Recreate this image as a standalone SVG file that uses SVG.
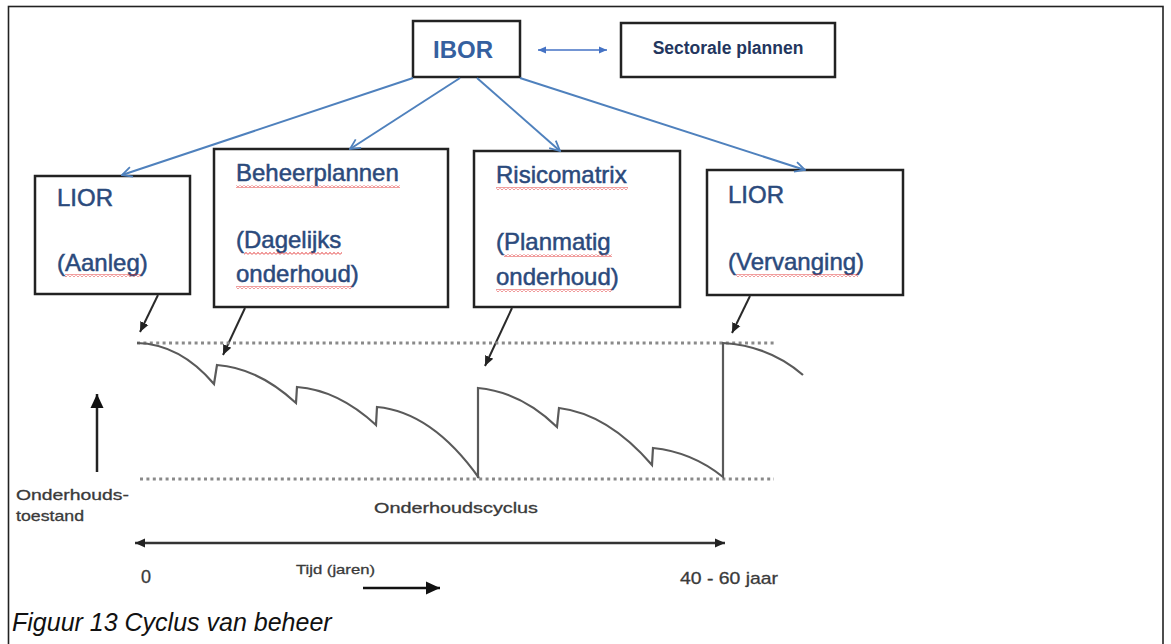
<svg xmlns="http://www.w3.org/2000/svg" width="1171" height="644" viewBox="0 0 1171 644">
<style>
.box{fill:#fff;stroke:#222;stroke-width:2.5}
.bt{font-family:"Liberation Sans",Arial,sans-serif;font-size:24px;fill:#2B4A7C;stroke:#2B4A7C;stroke-width:0.5}
.blue{stroke:#4F81BD;stroke-width:2;fill:none}
.blk{stroke:#2a2a2a;stroke-width:2;fill:none}
.dot{stroke:#8a8a8a;stroke-width:3;stroke-dasharray:3 3.4;fill:none}
.lbl{font-family:"Liberation Sans",Arial,sans-serif;font-size:15px;fill:#3a3a3a;stroke:#3a3a3a;stroke-width:0.3}
.sq{fill:url(#sq)}
</style>
<defs>
<pattern id="sq" patternUnits="userSpaceOnUse" x="0" y="0" width="4" height="3">
<path d="M0,2.6 L2,0.4 L4,2.6" fill="none" stroke="#E02828" stroke-width="0.9"/>
</pattern>
<marker id="bo" viewBox="0 0 12 12" refX="11" refY="6" markerWidth="12" markerHeight="12" markerUnits="userSpaceOnUse" orient="auto">
<path d="M1,1 L11,6 L1,11" fill="none" stroke="#4F81BD" stroke-width="1.8"/>
</marker>
<marker id="bf" viewBox="0 0 8 8" refX="8" refY="4" markerWidth="8" markerHeight="8" markerUnits="userSpaceOnUse" orient="auto-start-reverse">
<path d="M0,0.5 L8,4 L0,7.5 z" fill="#4472C4"/>
</marker>
<marker id="kf" viewBox="0 0 10 10" refX="10" refY="5" markerWidth="10" markerHeight="10" markerUnits="userSpaceOnUse" orient="auto-start-reverse">
<path d="M0,0.5 L10,5 L0,9.5 z" fill="#222"/>
</marker>
<marker id="kb" viewBox="0 0 14 14" refX="14" refY="7" markerWidth="14" markerHeight="14" markerUnits="userSpaceOnUse" orient="auto-start-reverse">
<path d="M0,0.5 L14,7 L0,13.5 z" fill="#111"/>
</marker>
</defs>
<rect x="0" y="0" width="1171" height="644" fill="#fff"/>
<rect x="8.5" y="6.5" width="1154.5" height="660" fill="none" stroke="#222" stroke-width="1.6"/>

<g id="ibor">
<rect class="box" x="413" y="21" width="107" height="56"/>
<text x="463" y="58" text-anchor="middle" font-family="Liberation Sans,Arial,sans-serif" font-size="24" font-weight="bold" fill="#35609F">IBOR</text>
</g>
<g id="sectorale">
<rect class="box" x="621" y="23" width="214" height="54"/>
<text x="728" y="54" text-anchor="middle" font-family="Liberation Sans,Arial,sans-serif" font-size="17.5" font-weight="bold" fill="#23365E">Sectorale plannen</text>
</g>
<g id="lior-aanleg">
<rect class="box" x="35" y="176" width="155" height="118"/>
<text class="bt" x="57" y="206">LIOR</text>
<text class="bt" x="57" y="271">(Aanleg)</text>
<rect class="sq" x="65" y="274" width="76" height="3"/>
</g>
<g id="beheerplannen">
<rect class="box" x="214" y="149" width="234" height="158"/>
<text class="bt" x="236" y="181">Beheerplannen</text>
<text class="bt" x="236" y="248">(Dagelijks</text>
<text class="bt" x="236" y="282">onderhoud)</text>
<rect class="sq" x="236" y="185" width="164" height="3"/>
<rect class="sq" x="244" y="252" width="98" height="3"/>
<rect class="sq" x="236" y="286" width="116" height="3"/>
</g>
<g id="risicomatrix">
<rect class="box" x="474" y="151" width="206" height="156"/>
<text class="bt" x="496" y="183">Risicomatrix</text>
<text class="bt" x="496" y="250">(Planmatig</text>
<text class="bt" x="496" y="285">onderhoud)</text>
<rect class="sq" x="496" y="187" width="132" height="3"/>
<rect class="sq" x="504" y="254" width="108" height="3"/>
<rect class="sq" x="496" y="289" width="116" height="3"/>
</g>
<g id="lior-vervanging">
<rect class="box" x="707" y="170" width="196" height="125"/>
<text class="bt" x="728" y="203">LIOR</text>
<text class="bt" x="728" y="270">(Vervanging)</text>
<rect class="sq" x="736" y="274" width="122" height="3"/>
</g>

<g id="connectors">
<line class="blue" x1="413" y1="78" x2="122" y2="175" marker-end="url(#bo)"/>
<line class="blue" x1="460" y1="78" x2="350" y2="149" marker-end="url(#bo)"/>
<line class="blue" x1="477" y1="78" x2="560" y2="151" marker-end="url(#bo)"/>
<line class="blue" x1="520" y1="78" x2="805" y2="170" marker-end="url(#bo)"/>
<line x1="538" y1="50" x2="607" y2="50" stroke="#4472C4" stroke-width="1.6" marker-start="url(#bf)" marker-end="url(#bf)"/>
<line class="blk" x1="158" y1="295" x2="140" y2="332" marker-end="url(#kf)"/>
<line class="blk" x1="245" y1="308" x2="223" y2="355" marker-end="url(#kf)"/>
<line class="blk" x1="512" y1="308" x2="485" y2="366" marker-end="url(#kf)"/>
<line class="blk" x1="750" y1="296" x2="732" y2="333" marker-end="url(#kf)"/>
</g>

<g id="chart">
<line class="dot" x1="137" y1="343" x2="774" y2="343"/>
<line class="dot" x1="140" y1="479" x2="774" y2="479"/>
<path d="M137,343 Q180,344 214,384 L217,365 Q258,368 296,403 L297,387 Q338,390 376,425 L377,407 Q432,412 479,478" fill="none" stroke="#5a5a5a" stroke-width="2.2"/>
<path d="M478,478 L478,388 Q521,392 557,427 L559,408 Q608,414 652,465 L653,448 Q692,452 723,477 L723,343 Q770,346 803,375" fill="none" stroke="#5a5a5a" stroke-width="2.2"/>
<line x1="97" y1="472" x2="97" y2="394" stroke="#222" stroke-width="2.5" marker-end="url(#kb)"/>
<line x1="135" y1="543" x2="725" y2="543" stroke="#333" stroke-width="2.5" marker-start="url(#kf)" marker-end="url(#kf)"/>
<line x1="363" y1="588" x2="440" y2="588" stroke="#111" stroke-width="2.5" marker-end="url(#kb)"/>
<text class="lbl" x="16" y="500" textLength="113" lengthAdjust="spacingAndGlyphs">Onderhouds-</text>
<text class="lbl" x="16" y="521" textLength="68" lengthAdjust="spacingAndGlyphs">toestand</text>
<text class="lbl" x="374" y="513" textLength="164" lengthAdjust="spacingAndGlyphs">Onderhoudscyclus</text>
<text class="lbl" x="141" y="583" style="font-size:18px">0</text>
<text class="lbl" x="296" y="574" style="font-size:13.5px" textLength="79" lengthAdjust="spacingAndGlyphs">Tijd (jaren)</text>
<text class="lbl" x="680" y="584" style="font-size:17px" textLength="98" lengthAdjust="spacingAndGlyphs">40 - 60 jaar</text>
</g>
<text x="12" y="631" font-family="Liberation Sans,Arial,sans-serif" font-size="25" font-style="italic" fill="#111">Figuur 13 Cyclus van beheer</text>
</svg>
